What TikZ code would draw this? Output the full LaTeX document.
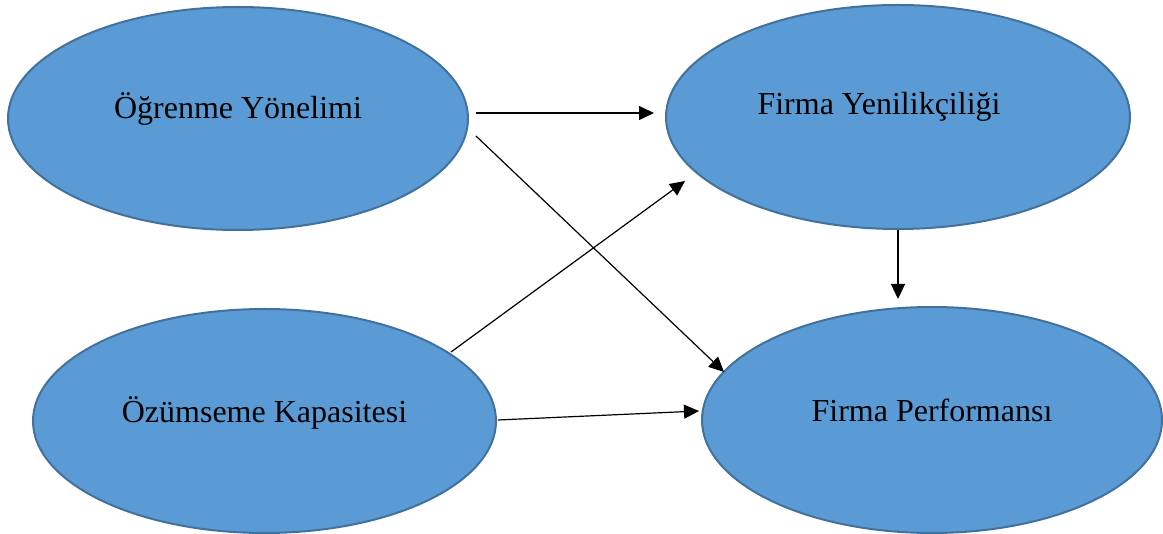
\documentclass[tikz,border=0pt]{standalone}
\usepackage{fontspec}
\setmainfont{Liberation Serif}
\usetikzlibrary{shapes.geometric,arrows.meta}
\definecolor{bfill}{HTML}{5B9BD5}
\definecolor{bline}{HTML}{41719C}
\tikzset{
  bubble/.style={ellipse, draw=bline, fill=bfill, line width=2pt, inner sep=0pt},
  lbl/.style={font=\fontsize{32}{38}\selectfont, text=black},
  arr/.style={draw=black, line width=1.2pt, -{Triangle[length=15pt,width=14pt]}}
}
\begin{document}
\begin{tikzpicture}[x=1pt,y=-1pt]
\useasboundingbox (0,0) rectangle (1163,534);
\node[bubble, minimum width=460pt, minimum height=223pt,
      label={[lbl, yshift=10pt]center:Öğrenme Yönelimi}] (a) at (238,118.5) {};
\node[bubble, minimum width=464pt, minimum height=224pt,
      label={[lbl, yshift=10pt, xshift=-19pt]center:Firma Yenilikçiliği}] (b) at (898,117) {};
\node[bubble, minimum width=463pt, minimum height=224pt,
      label={[lbl, yshift=8pt]center:Özümseme Kapasitesi}] (c) at (264.5,421) {};
\node[bubble, minimum width=460pt, minimum height=226pt,
      label={[lbl, yshift=10pt]center:Firma Performansı}] (d) at (932,420) {};
\draw[arr] ([shift={(7,-5.5)}]a.east) -- ([shift={(-11,-4)}]b.west);
\draw[arr] ([shift={(7,17.5)}]a.east) -- ([shift={(23,-48)}]d.west);
\draw[arr] ([shift={(-46,-69)}]c.east) -- ([shift={(20,64)}]b.west);
\draw[arr] ([shift={(1,-1)}]c.east) -- ([shift={(-2,-9)}]d.west);
\draw[arr] (b.south) -- ([shift={(-34,-7)}]d.north);
\end{tikzpicture}
\end{document}
